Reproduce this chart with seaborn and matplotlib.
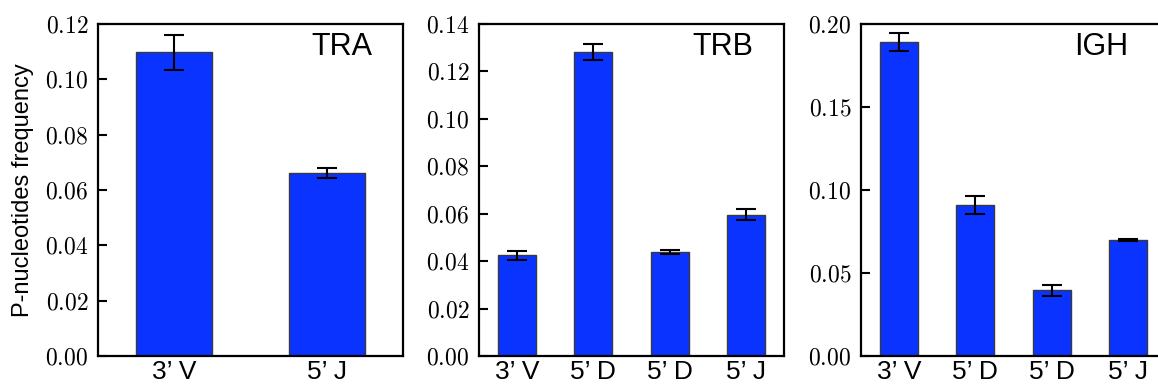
import matplotlib
matplotlib.use("Agg")
import matplotlib.pyplot as plt
import seaborn as sns
import pandas as pd
from matplotlib.ticker import FuncFormatter, MultipleLocator

# ---- data ----
panel_names = ["TRA", "TRB", "IGH"]

tra_labels = ["3\u2019 V", "5\u2019 J"]
tra_values = [0.1098, 0.0661]
tra_errors = [0.0063, 0.0019]

trb_labels = ["3\u2019 V", "5\u2019 D", "5\u2019 D", "5\u2019 J"]
trb_values = [0.0425, 0.1283, 0.0440, 0.0596]
trb_errors = [0.0019, 0.0033, 0.0009, 0.0024]

igh_labels = ["3\u2019 V", "5\u2019 D", "5\u2019 D", "5\u2019 J"]
igh_values = [0.1890, 0.0910, 0.0396, 0.0699]
igh_errors = [0.0053, 0.0055, 0.0032, 0.0004]

y_max = [0.12, 0.14, 0.20]
y_step = [0.02, 0.02, 0.05]
y_label = "P-nucleotides frequency"

# ---- style ----
sns.set_style("ticks")
plt.rcParams["font.family"] = ["Liberation Sans", "DejaVu Sans"]
plt.rcParams["mathtext.fontset"] = "cm"
for key in ["text.color", "axes.labelcolor", "xtick.color", "ytick.color", "axes.edgecolor"]:
    plt.rcParams[key] = "black"

BAR_COLOR = "#0a33ff"

fig = plt.figure(figsize=(11.58, 3.87), dpi=100)
W, H = 1158.0, 387.0
lefts = [98, 479, 861]
ax_w, ax_top, ax_bot = 305, 24, 356

panels = [
    (tra_labels, tra_values, tra_errors),
    (trb_labels, trb_values, trb_errors),
    (igh_labels, igh_values, igh_errors),
]

for i, (labels, vals, errs) in enumerate(panels):
    ax = fig.add_axes([lefts[i] / W, (H - ax_bot) / H, ax_w / W, (ax_bot - ax_top) / H])
    n = len(vals)
    df = pd.DataFrame({"pos": list(range(n)), "value": vals})
    sns.barplot(data=df, x="pos", y="value", ax=ax, color=BAR_COLOR, saturation=1,
                width=0.5, edgecolor="#3a3a3a", linewidth=1.0)
    ax.errorbar(list(range(n)), vals, yerr=errs, fmt="none", ecolor="black",
                elinewidth=1.5, capsize=7, capthick=1.5, zorder=5)
    ax.set_xlim(-0.5, n - 0.5)
    ax.set_ylim(0, y_max[i])
    ax.yaxis.set_major_locator(MultipleLocator(y_step[i]))
    ax.yaxis.set_major_formatter(FuncFormatter(lambda v, p: r"$%.2f$" % v))
    ax.set_xticks(list(range(n)))
    ax.set_xticklabels(labels, fontsize=19)
    ax.set_xlabel("")
    ax.set_ylabel("")
    ax.tick_params(axis="y", labelsize=17, pad=7)
    ax.tick_params(axis="x", pad=3)
    ax.tick_params(direction="in", length=6.5, width=1.5, top=False, right=False,
                   colors="black")
    for sp in ax.spines.values():
        sp.set_visible(True)
        sp.set_linewidth(1.6)
        sp.set_color("black")
    ax.text(0.80 if i < 2 else 0.787, 0.93, panel_names[i], transform=ax.transAxes,
            ha="center", va="center", fontsize=22, color="black")
    if i == 0:
        ax.set_ylabel(y_label, fontsize=17, labelpad=8, color="black")

fig.savefig("out.png", dpi=100)
